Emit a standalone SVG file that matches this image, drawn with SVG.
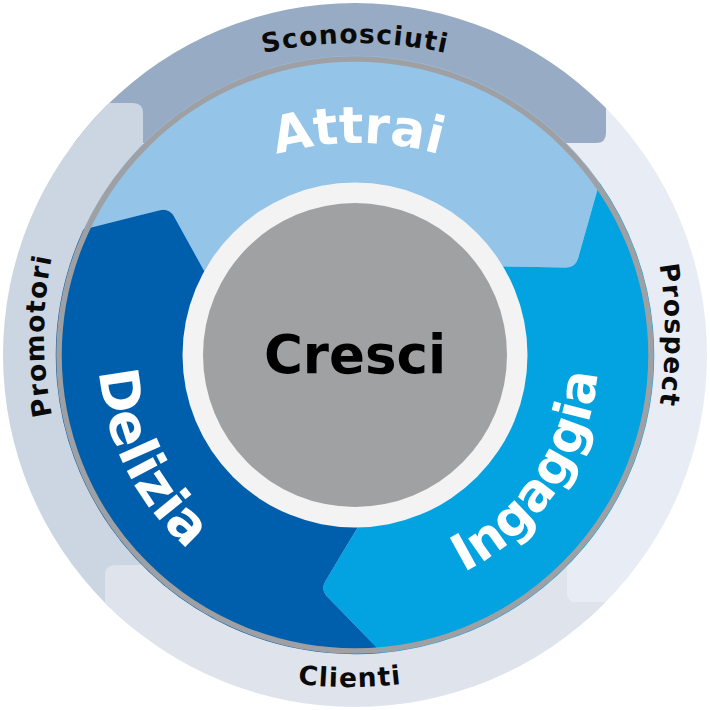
<svg xmlns="http://www.w3.org/2000/svg" width="710" height="710" viewBox="0 0 710 710">
<style>
.out{font-family:"DejaVu Sans","Liberation Sans",sans-serif;font-weight:700;font-size:26.5px;fill:#0a0a0a;letter-spacing:1.2px}
.in{font-family:"DejaVu Sans","Liberation Sans",sans-serif;font-weight:700;font-size:51px;fill:#ffffff}
.piece{clip-path:url(#ring)}
</style>
<defs>
<clipPath id="ring"><circle cx="355" cy="355" r="352"/></clipPath>
<path id="seg" d="M207.93 277.67 L174.12 216.49 Q169.28 207.73 159.59 210.18 L83.36 229.51 A299.2 299.2 0 0 1 599.5 182.5 L578.12 258.18 Q575.4 267.8 565.4 267.61 L495.5 266.3 A166 166 0 0 0 207.93 277.67 Z"/>
<path id="p-scon" d="M114.1 118.96 A420 420 0 0 1 595.9 118.96"/>
<path id="p-prosp" d="M559.7 45.7 A450 450 0 0 1 559.7 624.3"/>
<path id="p-promo" d="M186.9 642.4 A400 400 0 0 1 186.9 29.6"/>
<path id="p-cli" d="M-39.7 462 A450 450 0 0 0 739.7 462"/>
<path id="p-attrai" d="M163.88 213.66 A302 302 0 0 1 552.12 213.66"/>
<path id="p-ing" d="M297.04 590.98 A243 243 0 0 0 551.09 211.48"/>
<path id="p-del" d="M169.31 178.78 A256 256 0 0 0 383.98 609.35"/>
</defs>
<rect width="710" height="710" fill="#ffffff"/>
<g id="prospect">
<path class="piece" fill="#e8edf5" d="M567 -10 H720 V602 H577 Q567 602 567 592 Z"/>
<text class="out"><textPath href="#p-prosp" startOffset="50%" text-anchor="middle">Prospect</textPath></text>
</g>
<g id="sconosciuti">
<path class="piece" fill="#97abc4" d="M-10 -10 H606 V133 Q606 143 596 143 H-10 Z"/>
<text class="out"><textPath href="#p-scon" startOffset="50%" text-anchor="middle">Sconosciuti</textPath></text>
</g>
<g id="promotori">
<path class="piece" fill="#cbd6e2" d="M-10 103 H133 Q143 103 143 113 V720 H-10 Z"/>
<text class="out"><textPath href="#p-promo" startOffset="50%" text-anchor="middle">Promotori</textPath></text>
</g>
<g id="clienti">
<path class="piece" fill="#dee3ec" d="M105 720 V575 Q105 565 115 565 H567 V592 Q567 602 577 602 H720 V720 Z"/>
<text class="out"><textPath href="#p-cli" startOffset="50%" text-anchor="middle">Clienti</textPath></text>
</g>
<g id="attrai">
<use href="#seg" fill="#94c4e8"/>
<text class="in"><textPath href="#p-attrai" startOffset="50%" text-anchor="middle">Attrai</textPath></text>
</g>
<g id="ingaggia">
<use href="#seg" fill="#02a3e0" transform="rotate(120 355 355)"/>
<text class="in" font-size="52"><textPath href="#p-ing" startOffset="50%" text-anchor="middle">Ingaggia</textPath></text>
</g>
<g id="delizia">
<use href="#seg" fill="#005fac" transform="rotate(240 355 355)"/>
<text class="in" style="font-size:54px"><textPath href="#p-del" startOffset="50%" text-anchor="middle">Delizia</textPath></text>
</g>
<circle cx="355" cy="355" r="296" fill="none" stroke="#9fa0a3" stroke-width="5.5"/>
<g id="cresci">
<circle cx="355" cy="355" r="172.5" fill="#f3f3f4"/>
<circle cx="355" cy="355" r="152" fill="#a0a1a3"/>
<text x="355" y="373" text-anchor="middle" font-family="'DejaVu Sans','Liberation Sans',sans-serif" font-weight="700" font-size="53" fill="#000000">Cresci</text>
</g>
<g id="connectors"/>
</svg>
